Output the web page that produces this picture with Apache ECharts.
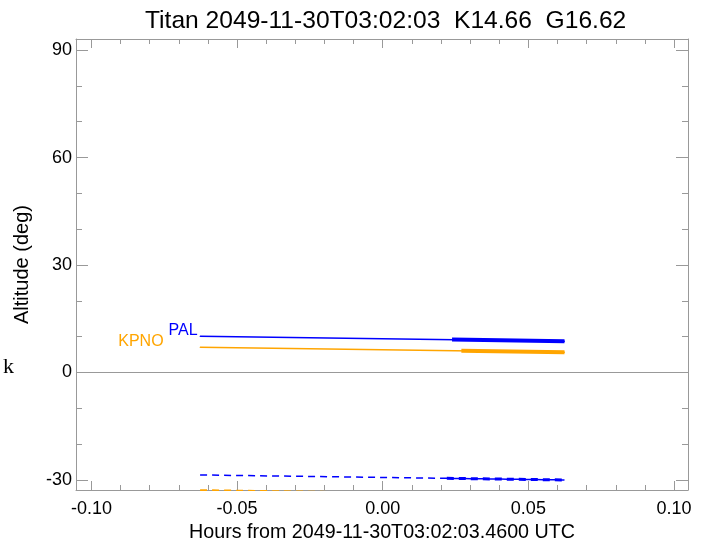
<!DOCTYPE html>
<html>
<head>
<meta charset="utf-8">
<script src="https://cdn.jsdelivr.net/npm/echarts@6.0.0/dist/echarts.min.js"></script>
<style>
    html, body { margin: 0; padding: 0; background: #fff; }
    #main { width: 706px; height: 539px; }
</style>
</head>
<body>
<div id="main"></div>
<script>
// axis ranges (hours / degrees)
var xRange = [-0.1053, 0.1048];
var yRange = [-32.8, 93.1];
var xTicks = [-0.10, -0.05, 0.00, 0.05, 0.10];
var xTickLabels = ['-0.10', '-0.05', '0.00', '0.05', '0.10'];
var yTicks = [-30, 0, 30, 60, 90];
var yTickLabels = ['-30', '0', '30', '60', '90'];

// tracks: start / end hour and altitude
var trackHours = [-0.0627, 0.0624];
var palAlt = [10.15, 8.75];
var kpnoAlt = [7.07, 5.68];
var palLowAlt = [-28.6, -30.0];
var kpnoLowAlt = [-32.85, -34.25];

// heavy part of each track
var palThickHours = [0.0238, 0.0624];
var palThickAlt = [9.18, 8.75];
var kpnoThickHours = [0.027, 0.0624];
var kpnoThickAlt = [6.07, 5.68];
var palLowThickHours = [0.022, 0.0624];
var palLowThickAlt = [-29.55, -30.0];
var kpnoLowThickHours = [0.027, 0.0624];
var kpnoLowThickAlt = [-33.85, -34.25];

var blue = '#0000ff',
    orange = '#ffa500',
    axisGray = '#999999';

function pairs(xs, ys) {
    return xs.map(function (x, i) { return [x, ys[i]]; });
}

function tickFormatter(ticks, labels) {
    return function (v) {
        for (var i = 0; i < ticks.length; i++) {
            if (Math.abs(v - ticks[i]) < 1e-7) return labels[i];
        }
        return '';
    };
}

function lineSeries(data, color, width, dashed) {
    return {
        type: 'line',
        data: data,
        showSymbol: false,
        symbol: 'none',
        clip: true,
        silent: true,
        lineStyle: { color: color, width: width, type: dashed ? [7, 5] : 'solid' },
        z: 3
    };
}

// thin track whose first point carries the site name
function namedSeries(data, text, color, distance) {
    var s = lineSeries(data, color, 1.5, false);
    s.symbol = 'circle';
    s.symbolSize = 1;
    s.showSymbol = true;
    s.itemStyle = { color: color };
    s.label = {
        show: true,
        position: 'left',
        distance: distance,
        offset: [0, -6],
        color: color,
        fontSize: 16,
        fontFamily: 'Liberation Sans',
        formatter: function (p) { return p.dataIndex === 0 ? text : ''; }
    };
    return s;
}

var tickLine = { color: axisGray, width: 1 };

function xAxisOpt(pos, showLabels) {
    return {
        type: 'value',
        position: pos,
        min: xRange[0],
        max: xRange[1],
        splitNumber: 4,
        axisLine: { show: true, onZero: false, lineStyle: tickLine },
        axisTick: { show: true, inside: true, length: 9, lineStyle: tickLine },
        minorTick: { show: true, splitNumber: 5, length: 5, lineStyle: tickLine },
        splitLine: { show: false },
        axisLabel: {
            show: showLabels,
            margin: 10,
            color: '#000',
            fontSize: 18,
            fontFamily: 'Liberation Sans',
            showMinLabel: true,
            showMaxLabel: true,
            formatter: tickFormatter(xTicks, xTickLabels)
        },
        name: showLabels ? 'Hours from 2049-11-30T03:02:03.4600 UTC' : '',
        nameLocation: 'middle',
        nameGap: 28,
        nameTextStyle: { color: '#000', fontSize: 19.7, fontFamily: 'Liberation Sans' }
    };
}

function yAxisOpt(pos, showLabels) {
    return {
        type: 'value',
        position: pos,
        min: yRange[0],
        max: yRange[1],
        splitNumber: 4,
        axisLine: { show: true, onZero: false, lineStyle: tickLine },
        axisTick: { show: true, inside: true, length: 12, lineStyle: tickLine },
        minorTick: { show: true, splitNumber: 3, length: 6, lineStyle: tickLine },
        splitLine: { show: false },
        axisLabel: {
            show: showLabels,
            margin: 4,
            color: '#000',
            fontSize: 18,
            fontFamily: 'Liberation Sans',
            showMinLabel: true,
            showMaxLabel: true,
            formatter: tickFormatter(yTicks, yTickLabels)
        },
        name: showLabels ? 'Altitude (deg)' : '',
        nameLocation: 'middle',
        nameGap: 44,
        nameTextStyle: { color: '#000', fontSize: 20, fontFamily: 'Liberation Sans' }
    };
}

var palThin = namedSeries(pairs(trackHours, palAlt), 'PAL', blue, 2);
palThin.markLine = {
    silent: true,
    symbol: 'none',
    label: { show: false },
    lineStyle: { color: axisGray, width: 1, type: 'solid' },
    data: [{ yAxis: 0 }]
};

var series = [
    palThin,
    lineSeries(pairs(palThickHours, palThickAlt), blue, 4, false),
    namedSeries(pairs(trackHours, kpnoAlt), 'KPNO', orange, 36),
    lineSeries(pairs(kpnoThickHours, kpnoThickAlt), orange, 4, false),
    lineSeries(pairs(trackHours, palLowAlt), blue, 1.5, true),
    lineSeries(pairs(palLowThickHours, palLowThickAlt), blue, 3, true),
    lineSeries(pairs(trackHours, kpnoLowAlt), orange, 2, true),
    lineSeries(pairs(kpnoLowThickHours, kpnoLowThickAlt), orange, 3, true)
];

var myChart = echarts.init(document.getElementById('main'), null, { renderer: 'canvas' });
myChart.setOption({
    animation: false,
    backgroundColor: '#fff',
    title: {
        text: 'Titan 2049-11-30T03:02:03  K14.66  G16.62',
        left: 140,
        top: 4,
        textStyle: { color: '#000', fontSize: 24.6, fontWeight: 'normal', fontFamily: 'Liberation Sans' }
    },
    grid: { left: 76, right: 18, top: 39, bottom: 49, containLabel: false, outerBoundsMode: 'none' },
    xAxis: [xAxisOpt('bottom', true), xAxisOpt('top', false)],
    yAxis: [yAxisOpt('left', true), yAxisOpt('right', false)],
    graphic: [{
        type: 'text',
        left: 3,
        top: 356,
        style: { text: 'k', fill: '#000', font: '22px "Liberation Serif"' }
    }],
    series: series
});
</script>
</body>
</html>
